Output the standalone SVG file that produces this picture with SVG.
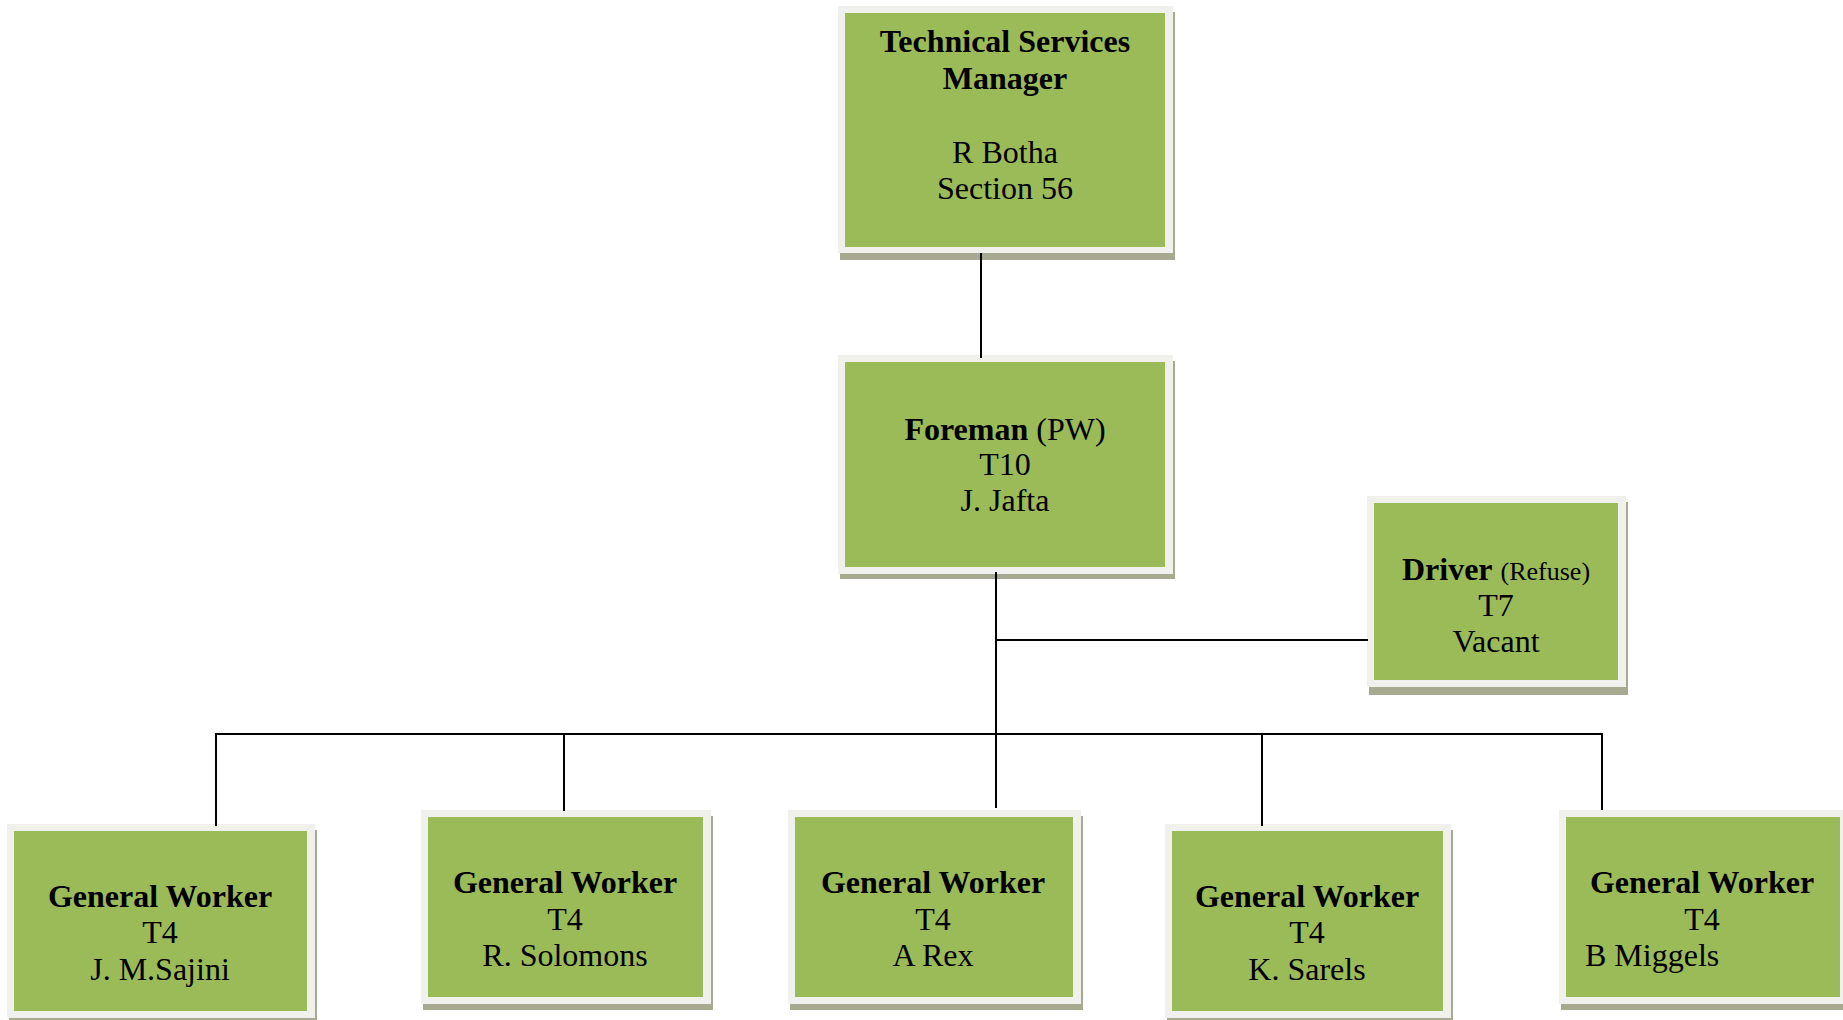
<svg xmlns="http://www.w3.org/2000/svg" width="1843" height="1020" viewBox="0 0 1843 1020">
  <style>
    .shadow { fill: #a7aa91; }
    .frame { fill: #f0f0ec; }
    .card { fill: #9bbb59; }
    .t { font-family: "Liberation Serif", "Times New Roman", serif; font-size: 32px; fill: #000; text-anchor: middle; }
    .t.start { text-anchor: start; }
    .b { font-weight: bold; }
    .small { font-size: 26px; font-weight: normal; }
    .wire { fill: none; stroke: #000; stroke-width: 2; }
  </style>

  <!-- Technical Services Manager -->
  <g id="node-manager">
    <rect class="shadow" x="840" y="12" width="335" height="248"/>
    <rect class="frame" x="838" y="6" width="335" height="247"/>
    <rect class="card" x="845" y="13" width="320" height="234"/>
    <text class="t b" x="1005" y="52">Technical Services</text>
    <text class="t b" x="1005" y="89">Manager</text>
    <text class="t" x="1005" y="163">R Botha</text>
    <text class="t" x="1005" y="199">Section 56</text>
  </g>

  <!-- Foreman -->
  <g id="node-foreman">
    <rect class="shadow" x="840" y="361" width="335" height="218"/>
    <rect class="frame" x="838" y="355" width="335" height="219"/>
    <rect class="card" x="845" y="362" width="320" height="205"/>
    <text class="t" x="1005" y="440"><tspan class="b">Foreman</tspan> (PW)</text>
    <text class="t" x="1005" y="475">T10</text>
    <text class="t" x="1005" y="511">J. Jafta</text>
  </g>

  <!-- Driver -->
  <g id="node-driver">
    <rect class="shadow" x="1369" y="502" width="259" height="193"/>
    <rect class="frame" x="1367" y="496" width="259" height="191"/>
    <rect class="card" x="1374" y="503" width="244" height="177"/>
    <text class="t" x="1496" y="580"><tspan class="b">Driver</tspan> <tspan class="small">(Refuse)</tspan></text>
    <text class="t" x="1496" y="616">T7</text>
    <text class="t" x="1496" y="652">Vacant</text>
  </g>

  <!-- General workers -->
  <g id="node-worker-1">
    <rect class="shadow" x="9" y="830" width="308" height="194"/>
    <rect class="frame" x="7" y="824" width="308" height="194"/>
    <rect class="card" x="14" y="831" width="293" height="180"/>
    <text class="t b" x="160" y="907">General Worker</text>
    <text class="t" x="160" y="943">T4</text>
    <text class="t" x="160" y="980">J. M.Sajini</text>
  </g>

  <g id="node-worker-2">
    <rect class="shadow" x="423" y="816" width="290" height="194"/>
    <rect class="frame" x="421" y="810" width="290" height="194"/>
    <rect class="card" x="428" y="817" width="275" height="180"/>
    <text class="t b" x="565" y="893">General Worker</text>
    <text class="t" x="565" y="930">T4</text>
    <text class="t" x="565" y="966">R. Solomons</text>
  </g>

  <g id="node-worker-3">
    <rect class="shadow" x="790" y="816" width="293" height="194"/>
    <rect class="frame" x="788" y="810" width="293" height="194"/>
    <rect class="card" x="795" y="817" width="278" height="180"/>
    <text class="t b" x="933" y="893">General Worker</text>
    <text class="t" x="933" y="930">T4</text>
    <text class="t" x="933" y="966">A Rex</text>
  </g>

  <g id="node-worker-4">
    <rect class="shadow" x="1167" y="830" width="286" height="194"/>
    <rect class="frame" x="1165" y="824" width="286" height="194"/>
    <rect class="card" x="1172" y="831" width="271" height="180"/>
    <text class="t b" x="1307" y="907">General Worker</text>
    <text class="t" x="1307" y="943">T4</text>
    <text class="t" x="1307" y="980">K. Sarels</text>
  </g>

  <g id="node-worker-5">
    <rect class="shadow" x="1561" y="816" width="289" height="194"/>
    <rect class="frame" x="1559" y="810" width="289" height="194"/>
    <rect class="card" x="1566" y="817" width="274" height="180"/>
    <text class="t b" x="1702" y="893">General Worker</text>
    <text class="t" x="1702" y="930">T4</text>
    <text class="t start" x="1585" y="966">B Miggels</text>
  </g>

  <!-- connectors, drawn over the card shadows -->
  <g id="connectors">
    <path class="wire" d="M981 253 V358"/>
    <path class="wire" d="M996 572 V808"/>
    <path class="wire" d="M996 640 H1368"/>
    <path class="wire" d="M216 826 V734 H1602 V810"/>
    <path class="wire" d="M564 734 V811"/>
    <path class="wire" d="M1262 734 V826"/>
  </g>
</svg>
